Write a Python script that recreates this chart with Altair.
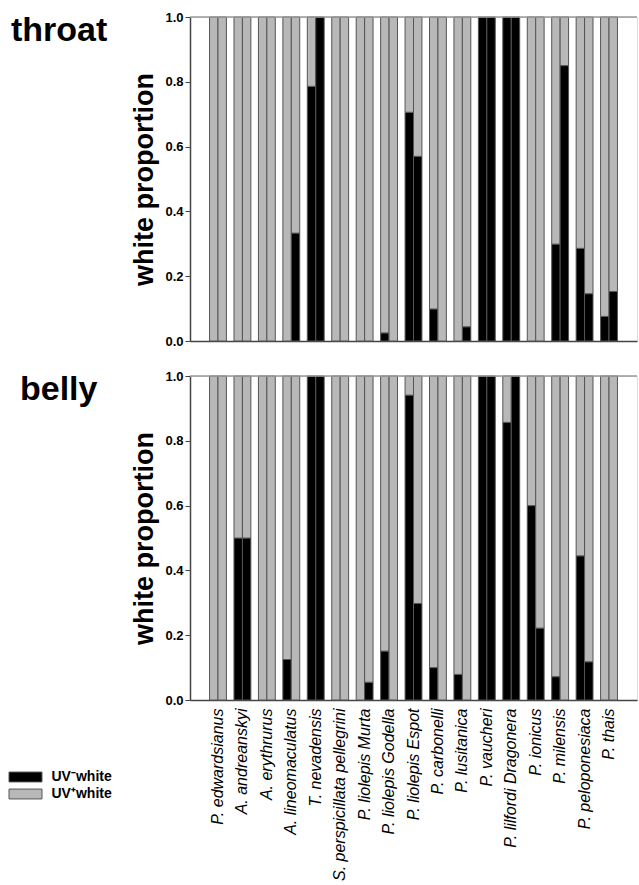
import altair as alt
import pandas as pd

species = [
    "P. edwardsianus", "A. andreanskyi", "A. erythrurus", "A. lineomaculatus",
    "T. nevadensis", "S. perspicillata pellegrini", "P. liolepis Murta",
    "P. liolepis Godella", "P. liolepis Espot", "P. carbonelli", "P. lusitanica",
    "P. vaucheri", "P. lilfordi Dragonera", "P. ionicus", "P. milensis",
    "P. peloponesiaca", "P. thais",
]
# UV- white proportion, first and second bar of each species
throat_a = [0, 0, 0, 0, 0.786, 0, 0, 0.025, 0.706, 0.099, 0, 1, 1, 0, 0.299, 0.286, 0.076]
throat_b = [0, 0, 0, 0.333, 1, 0, 0, 0, 0.570, 0, 0.044, 1, 1, 0, 0.85, 0.146, 0.153]
belly_a = [0, 0.5, 0, 0.125, 1, 0, 0, 0.151, 0.941, 0.1, 0.079, 1, 0.857, 0.6, 0.072, 0.445, 0]
belly_b = [0, 0.5, 0, 0, 1, 0, 0.055, 0, 0.298, 0, 0, 1, 1, 0.222, 0, 0.118, 0]

NEG = "UV\u207bwhite"
POS = "UV\u207awhite"
FONT = "Liberation Sans"


def make_df(a, b):
    rows = []
    for sp, va, vb in zip(species, a, b):
        for bar, v in (("a", va), ("b", vb)):
            if v > 0:
                rows.append({"species": sp, "bar": bar, "type": NEG, "k": 0, "value": v})
            if 1 - v > 1e-9:
                rows.append({"species": sp, "bar": bar, "type": POS, "k": 1, "value": 1 - v})
    return pd.DataFrame(rows)


def panel(a, b, name, bottom, dx):
    df = make_df(a, b)
    if bottom:
        xaxis = alt.Axis(title=None, labelAngle=-90, labelFontStyle="italic", labelFontSize=16,
                         labelFont=FONT, labelColor="#000", ticks=False, labelPadding=8,
                         labelLimit=300, domainColor="#444", domainWidth=1.5)
    else:
        xaxis = alt.Axis(title=None, labels=False, ticks=False, domainColor="#444", domainWidth=1.5)
    bars = alt.Chart(df).mark_bar(stroke="#555", strokeWidth=1).encode(
        x=alt.X("species:N", sort=species,
                scale=alt.Scale(paddingInner=0.31, paddingOuter=0.8), axis=xaxis),
        xOffset=alt.XOffset("bar:N", sort=["a", "b"],
                            scale=alt.Scale(paddingInner=0, paddingOuter=0)),
        y=alt.Y("value:Q", stack="zero", scale=alt.Scale(domain=[0, 1], nice=False),
                axis=alt.Axis(title="white proportion", values=[0, 0.2, 0.4, 0.6, 0.8, 1.0],
                              format=".1f", labelFontWeight="bold", labelFontSize=13,
                              labelFont=FONT, labelColor="#000", tickSize=5, tickColor="#444",
                              domainColor="#444", domainWidth=1.5, grid=False,
                              titleFont=FONT, titleFontSize=27, titleFontWeight="bold",
                              titleColor="#000", titlePadding=6)),
        color=alt.Color("type:N", scale=alt.Scale(domain=[NEG, POS], range=["#000000", "#b8b8b8"]),
                        legend=alt.Legend(title=None, orient="none", legendX=-173.5, legendY=751,
                                          symbolType="M-2,-0.6H2V0.6H-2Z", symbolSize=272,
                                          symbolStrokeColor="#555", symbolStrokeWidth=1,
                                          labelFont=FONT, labelFontSize=14, labelFontWeight="bold",
                                          labelColor="#000", labelOffset=17, rowPadding=1)),
        order=alt.Order("k:Q"),
    )
    top = alt.Chart(pd.DataFrame({"v": [1]})).mark_rule(color="#999", strokeWidth=1.5).encode(
        y=alt.Y("v:Q"))
    label = alt.Chart(pd.DataFrame({"name": [name]})).mark_text(
        font=FONT, fontSize=34, fontWeight="bold", color="#000", align="left",
        baseline="alphabetic",
    ).encode(text="name:N", x=alt.value(dx), y=alt.value(24))
    return alt.layer(bars, top, label).properties(width=447, height=324)


chart = alt.vconcat(
    panel(throat_a, throat_b, "throat", False, -179),
    panel(belly_a, belly_b, "belly", True, -170),
    spacing=20,
).properties(
    padding={"left": 10, "top": 10, "right": 0, "bottom": 0},
).configure_view(stroke=None).configure(background="white")

chart.save("out.html", embed_options={"renderer": "svg", "actions": False})
